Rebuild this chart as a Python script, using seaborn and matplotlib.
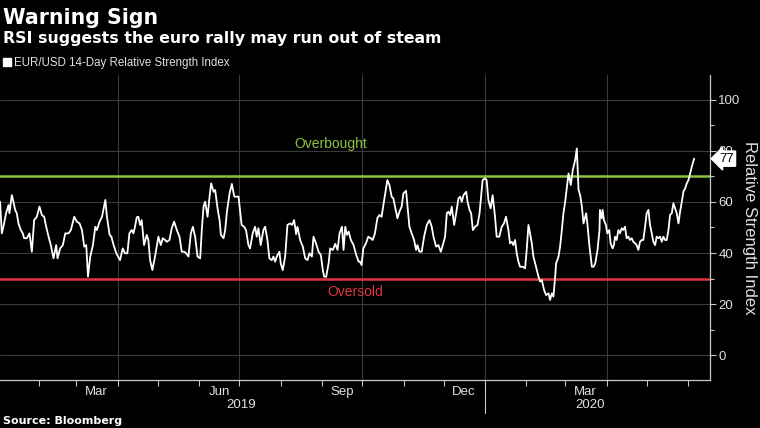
import numpy as np
import pandas as pd
import matplotlib
matplotlib.use("Agg")
import matplotlib.pyplot as plt
import matplotlib.dates as mdates
import matplotlib.transforms as mtransforms
from matplotlib.ticker import MultipleLocator, NullFormatter, FixedLocator
from matplotlib.lines import Line2D
import seaborn as sns

# ---------------- data (days since 2019-01-01, RSI value) ----------------
BASE_DATE = "2019-01-01"
seg_q1_2019 = [(2, 60.1), (3.3, 47.7), (4.5, 50.3), (6.5, 55.6), (8.3, 58.8), (9, 55.6), (10.8, 62.7),
               (12, 60.1), (13.3, 56.9), (14.5, 55.6), (15.8, 51.6), (17.5, 49.0), (19, 47.7), (20, 45.8),
               (22, 45.8), (24, 47.7), (25.8, 40.5), (27.5, 52.9), (29.5, 54.2), (31.5, 58.2), (33.3, 54.9),
               (35, 54.2), (36.5, 50.3), (38.3, 46.4), (40, 43.1), (42, 37.9), (44, 43.1), (45, 37.9),
               (47, 41.8), (49, 43.1), (50.8, 47.7), (53.3, 47.7), (55, 49.0), (57.5, 54.2), (59.5, 52.3),
               (61.5, 51.6), (63.3, 49.0), (65, 42.5), (66.5, 43.1), (67.8, 30.7), (69.5, 38.6), (71.5, 43.1),
               (73.3, 50.3), (74.5, 49.0), (76.5, 52.3), (78.3, 54.2), (80.8, 60.8), (82, 54.2), (84, 47.1),
               (85.3, 46.4), (87, 43.1), (89, 39.9)]
seg_q2_2019 = [(91.8, 37.2), (93.8, 41.8), (95.5, 39.9), (97.3, 39.9), (98.8, 47.7), (100.5, 49.0),
               (101.8, 47.7), (103, 50.3), (104.3, 54.0), (105.5, 54.2), (106.8, 51.0), (108, 52.9),
               (109.8, 43.1), (111.8, 47.1), (113, 45.1), (114.3, 37.2), (116, 33.3), (118, 38.6),
               (120.5, 46.4), (122.3, 43.1), (123.8, 45.8), (125.5, 45.1), (126.8, 44.4), (128.8, 45.1),
               (130.5, 49.7), (132.3, 52.3), (134.3, 49.0), (136.3, 46.4), (138, 40.5), (139.8, 40.5),
               (141.3, 39.9), (143, 38.6), (144.8, 47.7), (146.3, 50.3), (148, 46.4), (149.8, 38.6),
               (151.8, 37.9), (153, 49.0), (154.3, 58.2), (155.5, 60.1), (157.3, 54.2), (158.8, 62.1),
               (160, 67.3), (161.8, 64.0), (163, 64.7), (164.8, 57.5), (166.3, 52.9), (167.3, 47.1),
               (169.3, 45.8), (170.5, 49.0), (171.8, 56.2), (173.8, 63.4), (175.5, 67.1), (177.3, 62.1),
               (179.3, 62.1), (180.5, 62.1)]
seg_q3_2019 = [(182.8, 51.0), (184.6, 50.3), (186.1, 49.0), (187.9, 43.1), (189.1, 41.8), (191.1, 47.7),
               (192.9, 50.3), (194.1, 46.4), (195.4, 49.7), (197.1, 43.1), (199.1, 49.0), (200.4, 50.3),
               (202.1, 45.1), (203.6, 37.9), (205.4, 37.2), (206.6, 38.6), (207.9, 36.6), (209.1, 38.6),
               (211.1, 40.5), (212.1, 35.9), (213.6, 33.3), (215.4, 38.6), (217.1, 51.0), (219.1, 51.6),
               (220.6, 51.0), (222.1, 52.9), (223.6, 47.4), (224.6, 50.3), (226.6, 45.1), (228.6, 42.5),
               (230.4, 37.9), (232.1, 37.2), (233.6, 39.9), (235.4, 38.6), (236.6, 46.4), (238.6, 43.6),
               (240.4, 40.5), (242.1, 39.2), (243.6, 33.3), (244.6, 30.7), (246.1, 30.7), (247.9, 35.9),
               (249.1, 41.8), (251.1, 41.2), (252.9, 43.6), (254.6, 41.2), (256.1, 47.7), (257.9, 50.3),
               (259.1, 41.2), (260.4, 50.3), (261.6, 47.1), (262.9, 48.4), (264.6, 45.1), (266.6, 43.1),
               (268.6, 39.2), (270.4, 36.6)]
seg_q4_2019 = [(271.4, 36.6), (272.6, 35.3), (273.9, 41.8), (275.9, 43.8), (277.6, 46.4), (279.4, 45.8),
               (280.9, 45.1), (282.6, 47.7), (284.4, 53.6), (285.9, 54.9), (287.6, 54.2), (288.9, 58.8),
               (290.1, 62.7), (291.9, 68.6), (293.4, 66.7), (295.1, 62.1), (296.4, 61.4), (297.6, 58.2),
               (299.4, 53.6), (300.9, 56.2), (302.6, 58.2), (303.9, 63.4), (305.9, 64.4), (306.9, 58.8),
               (308.4, 50.3), (310.1, 47.7), (311.9, 45.1), (313.4, 41.2), (314.4, 43.1), (315.9, 40.5),
               (317.6, 40.5), (319.4, 46.4), (321.4, 51.0), (323.4, 52.9), (325.1, 50.3), (326.4, 46.4),
               (328.4, 42.5), (330.1, 43.1), (331.9, 40.5), (333.4, 43.1), (335.1, 46.4), (336.4, 55.6),
               (337.6, 56.2), (338.9, 54.9), (340.1, 58.2), (341.9, 51.0), (343.4, 55.6), (345.1, 61.4),
               (346.4, 62.1), (347.6, 60.1), (348.9, 62.7), (350.9, 64.0), (351.9, 60.1), (353.4, 56.9),
               (354.6, 55.6), (355.9, 49.0), (357.6, 50.3), (359.4, 51.0), (360.9, 55.6)]
seg_q1_2020 = [(363.2, 68.6), (365, 69.3), (366.2, 68.6), (367.5, 60.8), (369.2, 57.5), (370.7, 62.7),
               (372.5, 54.2), (373.7, 46.4), (375.7, 46.4), (377.5, 50.3), (379.2, 51.6), (380.7, 54.2),
               (382.5, 49.0), (383.7, 43.8), (385, 44.4), (386.2, 43.1), (387.5, 45.1), (388.7, 39.9),
               (390, 36.6), (391.2, 34.6), (393.2, 34.6), (395, 34.0), (396.2, 41.2), (397.5, 51.0),
               (398.7, 47.7), (400, 43.8), (401.2, 38.6), (403.2, 34.6), (405, 30.7), (406.2, 28.8),
               (407.5, 29.4), (409.2, 25.5), (410.7, 23.5), (412.5, 24.2), (413.7, 21.6), (415, 24.2),
               (416.2, 22.9), (417.5, 30.7), (418.2, 35.9), (420, 38.6), (421.2, 42.5), (422.5, 49.0),
               (423.7, 55.6), (425, 60.1), (426.2, 65.4), (427.5, 71.2), (429.2, 66.7), (430.7, 72.6),
               (432.5, 76.5), (433.7, 81.0), (435, 64.7), (436.2, 62.7), (437.5, 58.2), (438.7, 51.6),
               (440.7, 55.6), (441.7, 51.0), (443.2, 42.5), (445, 34.6), (446.2, 34.6), (447.5, 35.9),
               (449.2, 41.2), (450.7, 49.0)]
seg_q2_2020 = [(451, 56.9), (452.3, 53.6), (453, 56.9), (454, 52.9), (455.5, 51.0), (456.5, 47.7),
               (458, 49.0), (459, 43.8), (460.5, 41.8), (461.5, 43.1), (462.3, 46.4), (463.5, 45.1),
               (464.8, 49.0), (466, 47.7), (467.3, 49.7), (468.5, 49.0), (469.8, 50.3), (471, 45.8),
               (472.3, 46.4), (473.5, 45.1), (474.8, 45.8), (476, 44.4), (477.3, 43.8), (478.5, 43.1),
               (479.8, 41.2), (481, 44.4), (482.3, 45.1), (483.5, 45.1), (484.8, 50.3), (486, 55.6),
               (487.3, 56.9), (488.5, 51.0), (489.8, 47.7), (491, 44.4), (492.3, 43.1), (493.5, 46.4),
               (494.8, 45.8), (496, 46.4), (497.3, 44.4), (498.5, 46.4), (499.8, 45.1), (501, 45.1),
               (502.3, 49.0), (503.5, 54.9), (504.8, 55.6), (506, 59.5), (507.3, 57.5), (508.5, 55.6),
               (509.8, 51.6), (511, 56.2), (512.3, 60.1), (513.5, 64.1), (514.8, 65.4), (516, 67.3),
               (517.3, 68.6), (518.5, 71.2), (519.8, 73.9), (521.5, 77.0)]

title = "Warning Sign"
subtitle = "RSI suggests the euro rally may run out of steam"
series_name = "EUR/USD 14-Day Relative Strength Index"
y_title = "Relative Strength Index"
source = "Source: Bloomberg"
overbought_level, oversold_level = 70, 30
overbought_label, oversold_label = "Overbought", "Oversold"
y_ticks = [0, 20, 40, 60, 80, 100]
month_labels = ["2019-03", "2019-06", "2019-09", "2019-12", "2020-03"]

# ---------------- build frame ----------------
pairs = seg_q1_2019 + seg_q2_2019 + seg_q3_2019 + seg_q4_2019 + seg_q1_2020 + seg_q2_2020
df = pd.DataFrame(pairs, columns=["day", "rsi"])
df["date"] = pd.Timestamp(BASE_DATE) + pd.to_timedelta(df["day"], unit="D")
last_val = df["rsi"].iloc[-1]

# ---------------- style ----------------
sns.set_theme(style="dark", rc={"axes.facecolor": "black", "figure.facecolor": "black"})
plt.rcParams["font.family"] = ["Liberation Sans", "DejaVu Sans"]

GREEN = "#8cc43f"
RED = "#e3343f"
GRID = "#3a3a3a"
AXC = "#c8c8c8"
TXT = "#e0e0e0"

W, H = 760, 428
fig = plt.figure(figsize=(W / 100, H / 100), dpi=100, facecolor="black")
ax = fig.add_axes([0, 1 - 380 / H, 710 / W, 305 / H])
ax.set_facecolor("black")

# reference lines & grid
for v in y_ticks:
    ax.axhline(v, color=GRID, lw=0.8, zorder=1)
for d in pd.date_range("2019-04-01", "2020-04-01", freq="QS"):
    ax.axvline(d, color=GRID, lw=0.8, zorder=1)
ax.axhline(overbought_level, color=GREEN, lw=1.8, zorder=2)
ax.axhline(oversold_level, color=RED, lw=1.8, zorder=2)

sns.lineplot(data=df, x="date", y="rsi", color="white", lw=1.3, ax=ax, legend=False, zorder=3)

x0 = pd.Timestamp(BASE_DATE) + pd.Timedelta(days=1.95)
x1 = pd.Timestamp(BASE_DATE) + pd.Timedelta(days=533.4)
ax.set_xlim(x0, x1)
ax.set_ylim(-9.8, 109.8)
ax.set_xlabel("")
ax.set_ylabel("")
ax.grid(False)

# y axis on right
ax.yaxis.tick_right()
ax.set_yticks(y_ticks)
ax.yaxis.set_minor_locator(MultipleLocator(10))
ax.tick_params(axis="y", which="major", direction="out", length=4, width=0.8, color=AXC,
               labelcolor=TXT, labelsize=9.5, pad=2, right=True, left=False)
ax.tick_params(axis="y", which="minor", direction="out", length=3, width=0.8, color=AXC,
               right=True, left=False)

# x axis: monthly ticks, labels mid-month
ax.xaxis.set_major_locator(mdates.MonthLocator())
ax.xaxis.set_major_formatter(NullFormatter())
mid_months = [mdates.date2num(pd.Timestamp(m + "-16")) for m in month_labels]
ax.xaxis.set_minor_locator(FixedLocator(mid_months))
ax.xaxis.set_minor_formatter(mdates.DateFormatter("%b"))
ax.tick_params(axis="x", which="major", direction="out", length=4, width=0.8, color=AXC, bottom=True)
ax.tick_params(axis="x", which="minor", length=0, labelcolor=TXT, labelsize=9.5, pad=4, bottom=True)

for s in ["top", "left"]:
    ax.spines[s].set_visible(False)
for s in ["bottom", "right"]:
    ax.spines[s].set_visible(True)
    ax.spines[s].set_color(AXC)
    ax.spines[s].set_linewidth(0.9)

# year labels and separator
blend = mtransforms.blended_transform_factory(ax.transData, ax.transAxes)
for yr in sorted(df["date"].dt.year.unique()):
    sub = df[df["date"].dt.year == yr]["date"]
    start = max(sub.min(), pd.Timestamp(f"{yr}-01-01"))
    mid = start + (sub.max() - start) / 2
    ax.text(mid, -0.082, str(yr), transform=blend, ha="center", va="center",
            color=TXT, fontsize=9.5)
sep = pd.Timestamp("2020-01-01")
ax.plot([sep, sep], [-0.007, -0.108], transform=blend, clip_on=False, color=AXC, lw=0.8)

# level annotations
ax.text(pd.Timestamp(BASE_DATE) + pd.Timedelta(days=249.7), 82.7, overbought_label,
        color=GREEN, fontsize=10, ha="center", va="center")
ax.text(pd.Timestamp(BASE_DATE) + pd.Timedelta(days=267.7), 24.7, oversold_label,
        color=RED, fontsize=10, ha="center", va="center")

# last value tag (covers the 80 tick label as in the original)
yblend = mtransforms.blended_transform_factory(ax.transAxes, ax.transData)
ax.text(1.013, last_val, f"{last_val:.0f}", transform=yblend, ha="left", va="center",
        color="black", fontsize=9.5, zorder=10, clip_on=False,
        bbox=dict(boxstyle="larrow,pad=0.12", fc="white", ec="white"))

# right axis title
fig.text(749 / W, 1 - 228 / H, y_title, rotation=270, ha="center", va="center",
         color=TXT, fontsize=12)

# titles
fig.text(3 / W, 1 - 18 / H, title, color="white", fontsize=14.8, fontweight="bold",
         family="DejaVu Sans", ha="left", va="center")
fig.text(3 / W, 1 - 39 / H, subtitle, color="white", fontsize=11.3, fontweight="bold",
         family="DejaVu Sans", ha="left", va="center")

# legend
handle = Line2D([], [], marker="s", color="white", ls="none", markersize=5.5)
fig.legend([handle], [series_name], loc="center left", bbox_to_anchor=(2 / W, 1 - 63 / H),
           frameon=False, handletextpad=0.1, handlelength=0.9, borderpad=0, borderaxespad=0,
           fontsize=8.3, labelcolor=TXT)

fig.text(3 / W, 1 - 421 / H, source, color="white", fontsize=8, fontweight="bold",
         family="DejaVu Sans", ha="left", va="center")

fig.savefig("out.png", dpi=100, facecolor="black")
